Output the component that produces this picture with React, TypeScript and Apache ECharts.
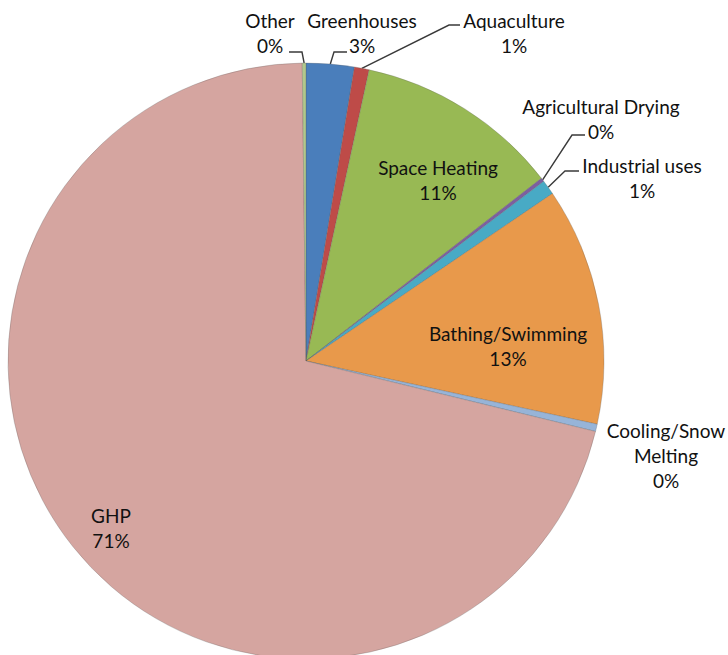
import React, { useEffect, useRef } from "react";
import * as echarts from "echarts";

// Data (clockwise from 12 o'clock)
const categories = [
  "Greenhouses",
  "Aquaculture",
  "Space Heating",
  "Agricultural Drying",
  "Industrial uses",
  "Bathing/Swimming",
  "Cooling/Snow Melting",
  "GHP",
  "Other",
];
const shares = [2.6, 0.8, 11.1, 0.2, 0.8, 12.9, 0.4, 71.0, 0.2];

// Styles
const colors = [
  "#4A7EBB",
  "#BE4B48",
  "#98B954",
  "#7D5FA0",
  "#48AAC5",
  "#E8994B",
  "#97B4D8",
  "#D5A5A0",
  "#B0C88C",
];
const insideLabels = ["Space Heating", "Bathing/Swimming", "GHP"];
const noLine = ["Cooling/Snow Melting"];
const wrapNames: Record<string, string> = {
  "Cooling/Snow Melting": "Cooling/Snow\nMelting",
};

// Label placement (Excel-like manual positions) and leader elbows
const labelPlace: Record<string, { x: number; y: number; line?: number[][] }> = {
  Greenhouses: { x: 362, y: 33, line: [[334, 52], [347, 52]] },
  Aquaculture: { x: 514, y: 33, line: [[449, 25], [460, 25]] },
  "Space Heating": { x: 438, y: 180 },
  "Agricultural Drying": { x: 601, y: 119, line: [[572, 135], [585, 135]] },
  "Industrial uses": { x: 642, y: 178, line: [[565, 171], [579, 171]] },
  "Bathing/Swimming": { x: 508, y: 346 },
  "Cooling/Snow Melting": { x: 666, y: 455 },
  GHP: { x: 111, y: 528 },
  Other: { x: 270, y: 33, line: [[302, 52], [289, 52]] },
};

export default function App() {
  const ref = useRef<HTMLDivElement>(null);
  useEffect(() => {
    if (!ref.current) return;
    const chart = echarts.init(ref.current, undefined, { renderer: "svg" });
    const data = categories.map((name, i) => {
      const inside = insideLabels.includes(name);
      return {
        name,
        value: shares[i],
        itemStyle: { color: colors[i] },
        label: { position: inside ? "inside" : "outside" },
        labelLine: { show: !inside && !noLine.includes(name) },
      };
    });
    chart.setOption({
      animation: false,
      backgroundColor: "#ffffff",
      series: [
        {
          type: "pie",
          center: [306, 361],
          radius: [0, 298],
          startAngle: 90,
          clockwise: true,
          avoidLabelOverlap: false,
          itemStyle: {
            borderColor: "rgba(90,90,90,0.35)",
            borderWidth: 0.8,
          },
          label: {
            show: true,
            fontFamily: "Lato",
            fontSize: 19,
            lineHeight: 25,
            color: "#111111",
            align: "center",
            formatter: (p: any) =>
              `${wrapNames[p.name] ?? p.name}\n${Math.round(p.percent)}%`,
          },
          labelLine: {
            show: true,
            length: 10,
            length2: 10,
            lineStyle: { color: "#3a3a3a", width: 1.4 },
          },
          labelLayout: (params: any) => {
            const name = categories[params.dataIndex];
            const place = labelPlace[name];
            if (!place) return {};
            const out: any = {
              x: place.x,
              y: place.y,
              align: "center",
              verticalAlign: "middle",
            };
            if (place.line && params.labelLinePoints) {
              const p0 = params.labelLinePoints[0];
              out.labelLinePoints = [p0, ...place.line];
            }
            return out;
          },
          data,
        },
      ],
    });
    return () => chart.dispose();
  }, []);
  return (
    <div
      ref={ref}
      style={{ position: "fixed", left: 0, top: 0, width: 728, height: 655 }}
    />
  );
}
